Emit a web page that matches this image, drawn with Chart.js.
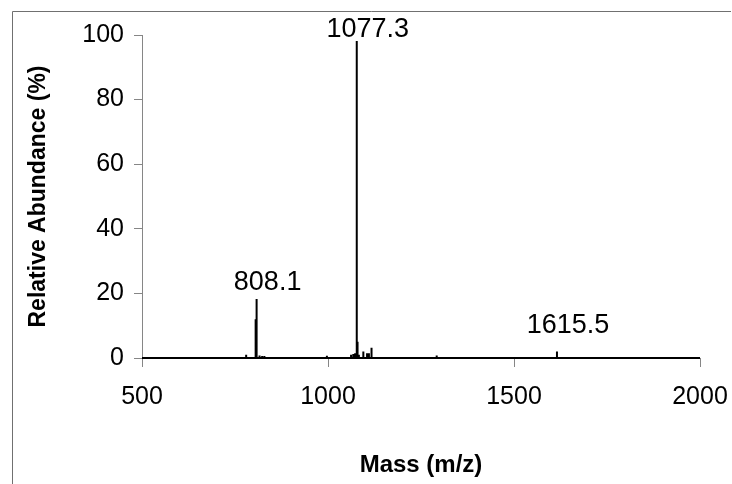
<!DOCTYPE html>
<html>
<head>
<meta charset="utf-8">
<script src="https://cdn.jsdelivr.net/npm/chart.js@4.4.1/dist/chart.umd.min.js"></script>
<style>
  html, body { margin:0; padding:0; background:#fff; }
  #wrap { width:732px; height:484px; position:relative; }
</style>
</head>
<body>
<div id="wrap"><canvas id="spectrum"></canvas></div>
<script>
// peaks (m/z , relative abundance %)
const peakMass  = [780, 805.5, 806.5, 808.1, 809.1, 816, 823, 829, 997,
                   1062, 1068, 1073, 1077.3, 1078.3, 1079.3, 1080.3, 1083,
                   1095, 1105, 1110, 1117, 1291, 1293, 1615.5];
const peakAbund = [1.0, 12, 13, 18.3, 4, 0.8, 0.6, 0.6, 0.7,
                   1.0, 1.2, 1.5, 100, 5, 3.5, 2, 1,
                   2, 1.5, 1.5, 3.2, 0.8, 0.8, 2];

// annotated peaks
const labelMass = [808.1, 1077.3, 1615.5];
const labelText = ["808.1", "1077.3", "1615.5"];

const massRange = [500, 2000];
const xTicks = [500, 1000, 1500, 2000];
const yTicks = [0, 20, 40, 60, 80, 100];

// stick spectrum: baseline with a spike for each peak
const linePts = [{x: massRange[0], y: 0}];
peakMass.forEach((m, i) => {
    linePts.push({x: m, y: 0});
    linePts.push({x: m, y: peakAbund[i]});
    linePts.push({x: m, y: 0});
});
linePts.push({x: massRange[1], y: 0});

const frame = {
    id: "frame",
    beforeDraw(chart){
        const c = chart.ctx;
        c.save();
        c.strokeStyle = "#707070";
        c.lineWidth = 1;
        c.beginPath();
        c.moveTo(12.5, 484);
        c.lineTo(12.5, 11.5);
        c.lineTo(731, 11.5);
        c.stroke();
        c.restore();
    }
};

const peakLabels = {
    id: "peakLabels",
    afterDatasetsDraw(chart){
        const c = chart.ctx;
        const xs = chart.scales.x, ys = chart.scales.y;
        const lift = [9, -2, 19];
        c.save();
        c.font = "27px 'Liberation Sans', Arial, sans-serif";
        c.textAlign = "center";
        c.textBaseline = "alphabetic";
        labelMass.forEach((m, i) => {
            const h = peakAbund[peakMass.indexOf(m)];
            const px = xs.getPixelForValue(m) + 11;
            const py = ys.getPixelForValue(h) - lift[i];
            const w = c.measureText(labelText[i]).width;
            c.fillStyle = "#fff";
            c.fillRect(px - w/2 - 2, py - 22, w + 4, 26);
            c.fillStyle = "#000";
            c.fillText(labelText[i], px, py);
        });
        c.restore();
    }
};

const tickFont = { family: "'Liberation Sans', Arial, sans-serif", size: 25 };
const titleFont = { family: "'Liberation Sans', Arial, sans-serif", size: 23, weight: "bold" };

new Chart(document.getElementById("spectrum"), {
    type: "scatter",
    data: {
        datasets: [{
            data: linePts,
            showLine: true,
            borderColor: "#000",
            borderWidth: 2,
            borderJoinStyle: "bevel",
            pointRadius: 0,
            tension: 0,
            clip: false
        }]
    },
    options: {
        responsive: true,
        maintainAspectRatio: false,
        animation: false,
        layout: { padding: { top: 35, right: 32, left: 0, bottom: 0 } },
        plugins: { legend: { display: false }, tooltip: { enabled: false } },
        scales: {
            x: {
                type: "linear",
                min: massRange[0],
                max: massRange[1],
                afterBuildTicks: s => { s.ticks = xTicks.map(v => ({value: v})); },
                afterFit: s => { s.height = 126; s.paddingLeft = 0; s.paddingRight = 0; },
                grid: { drawOnChartArea: false, drawTicks: true, tickLength: 9, color: "#868686" },
                border: { color: "#868686", width: 1 },
                ticks: {
                    color: "#000",
                    padding: 15,
                    font: tickFont,
                    callback: v => String(v)
                },
                title: {
                    display: true,
                    text: "Mass (m/z)",
                    color: "#000",
                    padding: { top: 0, bottom: 4 },
                    font: { family: titleFont.family, size: 24, weight: "bold" }
                }
            },
            y: {
                min: 0,
                max: 100,
                afterBuildTicks: s => { s.ticks = yTicks.map(v => ({value: v})); },
                afterFit: s => { s.width = 142; s.paddingTop = 0; s.paddingBottom = 0; },
                grid: { drawOnChartArea: false, drawTicks: true, tickLength: 8, color: "#868686" },
                border: { color: "#868686", width: 1 },
                ticks: {
                    color: "#000",
                    padding: 10,
                    font: tickFont,
                    callback: v => String(v)
                },
                title: {
                    display: true,
                    text: "Relative Abundance (%)",
                    color: "#000",
                    padding: { top: 25, bottom: 0 },
                    font: titleFont
                }
            }
        }
    },
    plugins: [frame, peakLabels]
});
</script>
</body>
</html>
